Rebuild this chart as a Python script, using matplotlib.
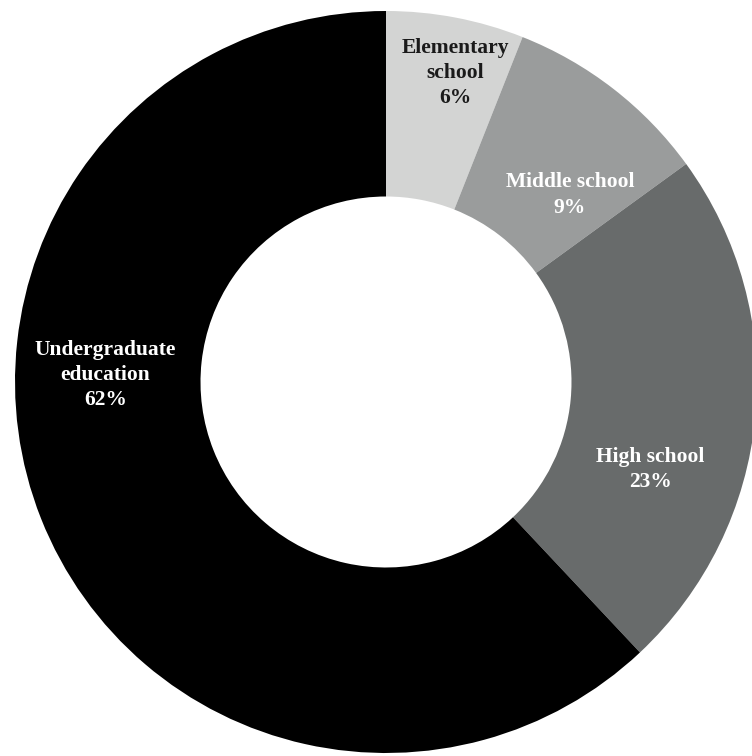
import matplotlib.pyplot as plt
import numpy as np

# data
categories = ["Elementary\nschool", "Middle school", "High school", "Undergraduate\neducation"]
shares = [6, 9, 23, 62]
colors = ["#d3d4d3", "#9a9c9c", "#686b6b", "#000000"]
text_colors = ["#1a1a1a", "white", "white", "white"]

# label placement (angle in degrees, radius as fraction of pie radius)
label_angle = [77.4, 45.5, -18.4, 178.6]
label_radius = [0.853, 0.707, 0.75, 0.757]

fig = plt.figure(figsize=(7.52, 7.56), dpi=100)
ax = fig.add_axes([0, 0, 1, 1])

wedges, _ = ax.pie(shares, colors=colors, startangle=90, counterclock=False,
                   radius=1.0, wedgeprops=dict(width=0.5, linewidth=0))

for lab, v, tc, a, r in zip(categories, shares, text_colors, label_angle, label_radius):
    x = r * np.cos(np.radians(a))
    y = r * np.sin(np.radians(a))
    ax.text(x, y, f"{lab}\n{v}%", ha="center", va="center", color=tc,
            fontsize=15.5, fontweight="bold", family="Liberation Serif",
            linespacing=1.35, multialignment="center")

# place the pie so that it is centred at (386, 382) px with radius 371 px
R = 371.0
ax.set_xlim(-386 / R, (752 - 386) / R)
ax.set_ylim(-(756 - 382) / R, 382 / R)
ax.set_aspect("equal")
ax.axis("off")

fig.savefig("out.png", dpi=100)
